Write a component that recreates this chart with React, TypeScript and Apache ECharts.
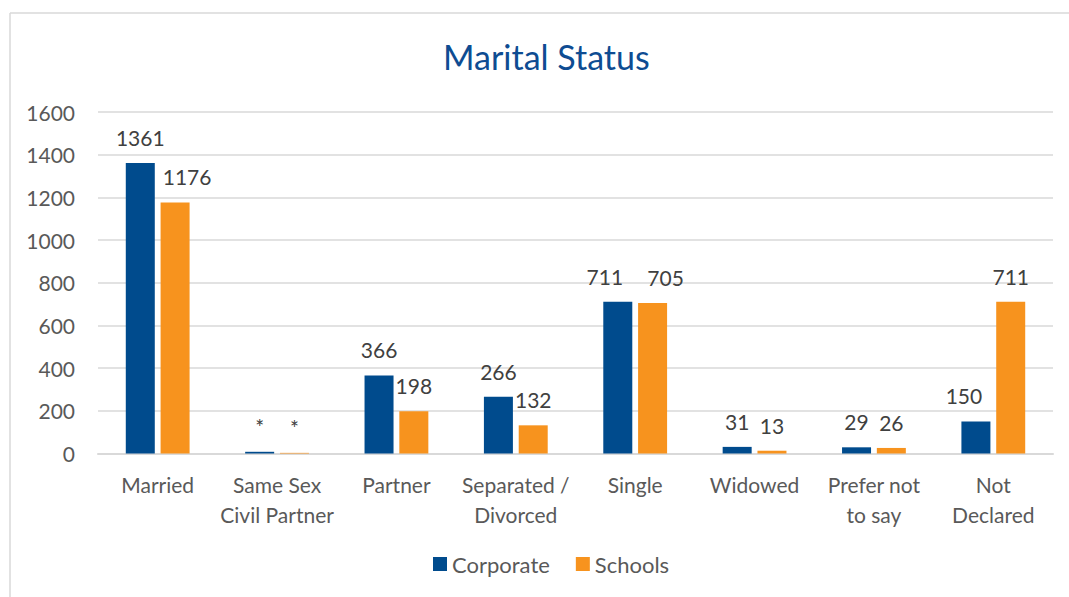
import React, { useEffect, useRef } from "react";
import * as echarts from "echarts";

const categories = [
  "Married",
  "Same Sex\nCivil Partner",
  "Partner",
  "Separated /\nDivorced",
  "Single",
  "Widowed",
  "Prefer not\nto say",
  "Not\nDeclared",
];
const corporate = [1361, 8, 366, 266, 711, 31, 29, 150];
const schools = [1176, 3, 198, 132, 705, 13, 26, 711];
const corporateLabels = ["1361", "*", "366", "266", "711", "31", "29", "150"];
const schoolsLabels = ["1176", "*", "198", "132", "705", "13", "26", "711"];
const yTicks = { min: 0, max: 1600, interval: 200 };

const FONT = "Lato, 'Open Sans', sans-serif";

export default function App() {
  const ref = useRef<HTMLDivElement>(null);
  useEffect(() => {
    if (!ref.current) return;
    const chart = echarts.init(ref.current, undefined, { renderer: "svg" });
    const labelStyle = (labels: string[]) => ({
      show: true,
      position: "top" as const,
      distance: 15,
      color: "#404040",
      fontSize: 21,
      fontFamily: FONT,
      formatter: (p: any) => labels[p.dataIndex],
    });
    const withOffsets = (vals: number[], offsets: Record<number, number[]>) =>
      vals.map((v, i) =>
        offsets[i] ? { value: v, label: { offset: offsets[i] } } : v
      );
    chart.setOption({
      animation: false,
      textStyle: { fontFamily: FONT },
      title: {
        text: "Marital Status",
        left: 438,
        top: 34,
        textStyle: { color: "#0E4C92", fontSize: 34, fontWeight: "normal", fontFamily: FONT },
      },
      graphic: [
        { type: "line", shape: { x1: 10, y1: 13, x2: 1069, y2: 13 }, style: { stroke: "#D9D9D9", lineWidth: 1.5 } },
        { type: "line", shape: { x1: 10, y1: 13, x2: 10, y2: 597 }, style: { stroke: "#D9D9D9", lineWidth: 1.5 } },
      ],
      legend: {
        bottom: 17,
        left: 428,
        itemWidth: 14,
        itemHeight: 14,
        itemGap: 26,
        icon: "rect",
        textStyle: { color: "#595959", fontSize: 22, fontFamily: FONT },
        data: ["Corporate", "Schools"],
      },
      grid: { left: 98, right: 16, top: 112, bottom: 143.5, containLabel: false },
      xAxis: {
        type: "category",
        data: categories,
        axisLine: { lineStyle: { color: "#D9D9D9", width: 2 } },
        axisTick: { show: false },
        axisLabel: {
          color: "#595959",
          fontSize: 21,
          fontFamily: FONT,
          margin: 16,
          lineHeight: 30,
          interval: 0,
        },
      },
      yAxis: {
        type: "value",
        min: yTicks.min,
        max: yTicks.max,
        interval: yTicks.interval,
        axisLine: { show: false },
        axisTick: { show: false },
        splitLine: { lineStyle: { color: "#D9D9D9", width: 1.5 } },
        axisLabel: {
          color: "#595959",
          fontSize: 21,
          fontFamily: FONT,
          margin: 23,
          formatter: (v: number) => String(v),
        },
      },
      series: [
        {
          name: "Corporate",
          type: "bar",
          data: withOffsets(corporate, { 4: [-13, 0], 7: [-12, 0] }),
          barWidth: 29,
          barGap: "20%",
          itemStyle: { color: "#004B8D" },
          label: labelStyle(corporateLabels),
        },
        {
          name: "Schools",
          type: "bar",
          data: withOffsets(schools, { 0: [12, 0], 4: [13, 0] }),
          barWidth: 29,
          itemStyle: { color: "#F7931E" },
          label: labelStyle(schoolsLabels),
        },
      ],
    });
    return () => chart.dispose();
  }, []);
  return <div ref={ref} style={{ width: 1069, height: 597, position: "absolute", left: 0, top: 0, background: "#fff" }} />;
}
